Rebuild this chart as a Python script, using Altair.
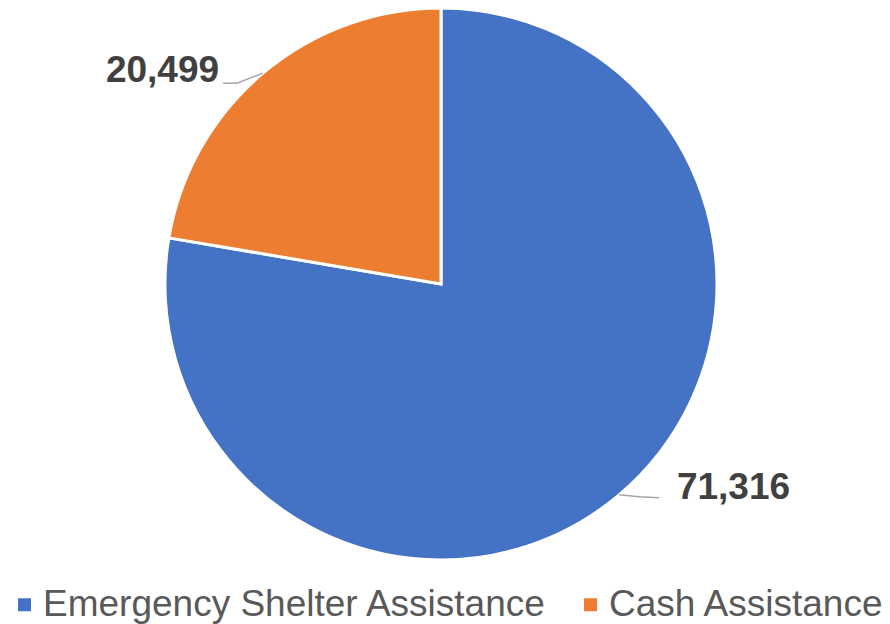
import math
import altair as alt
import pandas as pd

categories = ["Emergency Shelter Assistance", "Cash Assistance"]
values = [71316, 20499]
labels = ["71,316", "20,499"]
colors = ["#4472C4", "#ED7D31"]

W, H = 874, 616
CX, CY, R = 433, 276, 276

df = pd.DataFrame({"cat": categories, "value": values, "label": labels,
                   "idx": list(range(len(categories)))})

# leader lines: start on the slice edge at the mid angle of each slice
total = sum(values)
cum = 0
rows = []
bends = {0: [(0, 0), (20, 2), (40, 3)], 1: [(0, 0), (-26, 10), (-40, 10)]}
for i, v in enumerate(values):
    mid = (cum + v / 2) / total * 2 * math.pi
    cum += v
    ex = CX + R * math.sin(mid)
    ey = CY - R * math.cos(mid)
    for k, (ox, oy) in enumerate(bends[i]):
        rows.append({"cat": categories[i], "k": k, "px": ex + ox, "py": ey + oy})
lead = pd.DataFrame(rows)

color = alt.Color("cat:N", scale=alt.Scale(domain=categories, range=colors),
                  legend=alt.Legend(title=None, orient="none", legendX=-2, legendY=578,
                                    direction="horizontal", symbolType="square",
                                    symbolSize=169, symbolStrokeWidth=0,
                                    labelFontSize=37, labelColor="#595959",
                                    labelFont="Liberation Sans", labelLimit=800,
                                    labelOffset=0, columnPadding=25, padding=0))

theta = alt.Theta("value:Q", stack=True)
order = alt.Order("idx:Q")

pie = alt.Chart(df).mark_arc(radius=R, stroke="white", strokeWidth=3).encode(
    theta=theta, color=color, order=order,
    x=alt.value(CX), y=alt.value(CY))

def label_layer(i, dx, dy):
    return alt.Chart(df).transform_calculate(
        t=f"datum.idx == {i} ? datum.label : ''"
    ).mark_text(radius=320, dx=dx, dy=dy, fontSize=37, fontWeight="bold",
                font="Liberation Sans", color="#404040", align="center",
                baseline="middle").encode(
        theta=theta, order=order, text="t:N",
        x=alt.value(CX), y=alt.value(CY))

lab0 = label_layer(0, 86, -40)
lab1 = label_layer(1, -72, 31)

leaders = alt.Chart(lead).mark_line(color="#A6A6A6", strokeWidth=1.5).encode(
    x=alt.X("px:Q", scale=None), y=alt.Y("py:Q", scale=None),
    detail="cat:N", order="k:Q")

chart = alt.layer(pie, leaders, lab0, lab1).properties(
    width=W, height=H, padding=0, autosize="none"
).configure_view(stroke=None)

chart.save("out.html", embed_options={"renderer": "svg", "actions": False})
